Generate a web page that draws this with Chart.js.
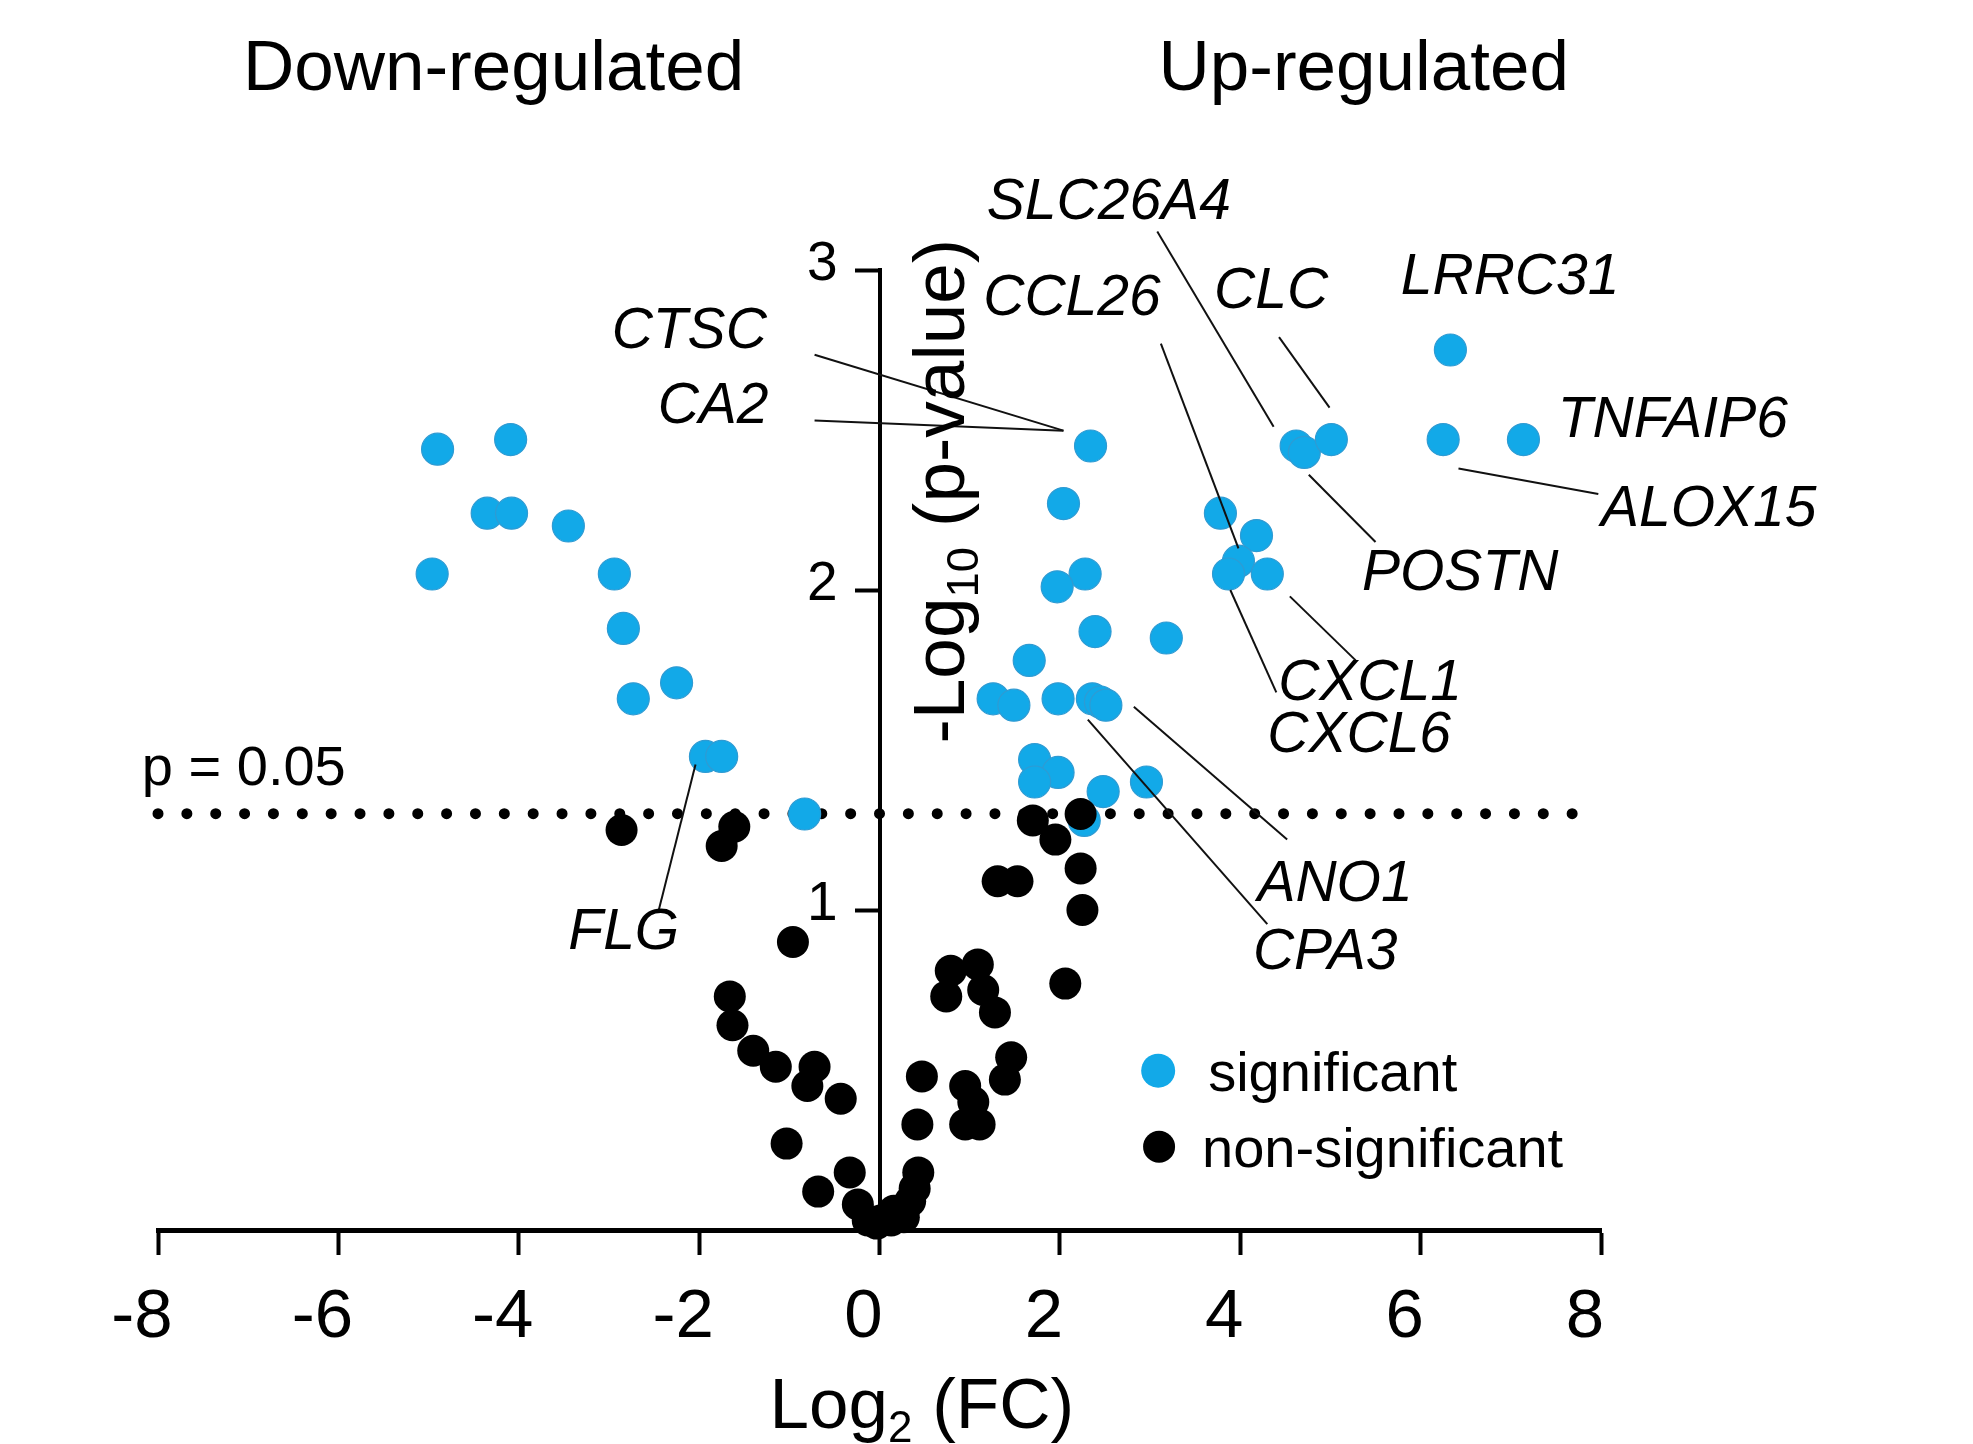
<!DOCTYPE html>
<html>
<head>
<meta charset="utf-8">
<title>Volcano plot</title>
<script src="https://cdn.jsdelivr.net/npm/chart.js@4.4.1/dist/chart.umd.min.js"></script>
<style>
  html, body { margin: 0; padding: 0; background: #fff; }
  #wrap { width: 1973px; height: 1444px; position: relative; }
</style>
</head>
<body>
<div id="wrap"><canvas id="volcano"></canvas></div>
<script>
/* ---------- Data ---------- */
const FONT = "'Liberation Sans', Arial, Helvetica, sans-serif";
const BLUE = "#12a9e8";

const X_TICKS = [-8, -6, -4, -2, 0, 2, 4, 6, 8];
const Y_TICKS = [1, 2, 3];
const P_THRESHOLD = 1.301; // -log10(0.05)

// significant genes (blue)
const sigLog2FC = [
  -4.90, -4.09, -4.35, -4.08, -3.45, -4.96, -2.94, -2.84, -2.73, -2.25, -1.93, -1.75, -0.83,
  2.34, 2.04, 2.28, 1.97, 2.39, 3.18, 1.66, 1.26, 1.49, 1.98, 2.36, 2.45, 2.51, 1.72, 1.98, 1.72, 2.48, 2.96, 2.27,
  3.78, 4.18, 3.98, 3.87, 4.30, 4.62, 4.71, 5.01, 6.25, 7.14, 6.33,
];
const sigNegLogP = [
  2.44, 2.47, 2.24, 2.24, 2.20, 2.05, 2.05, 1.88, 1.66, 1.71, 1.48, 1.48, 1.30,
  2.45, 2.27, 2.05, 2.01, 1.87, 1.85, 1.78, 1.66, 1.64, 1.66, 1.66, 1.65, 1.64, 1.47, 1.43, 1.40, 1.37, 1.40, 1.28,
  2.24, 2.17, 2.09, 2.05, 2.05, 2.45, 2.43, 2.47, 2.47, 2.47, 2.75,
];

// non-significant genes (black)
const nsLog2FC = [
  -2.86, -1.61, -1.75, -0.96, -1.66, -1.63, -1.40, -1.15, -0.72, -0.80, -0.43, -1.03, -0.33, -0.68, -0.24, -0.13, -0.03, 0.01,
  1.70, 1.95, 2.23, 2.23, 1.31, 1.53, 2.25, 0.79, 1.09, 0.74, 1.15, 1.28, 2.06, 1.46, 1.39, 0.95, 1.04, 0.95, 1.11,
  0.47, 0.42, 0.43, 0.39, 0.34, 0.25, 0.16, 0.27, 0.13,
];
const nsNegLogP = [
  1.25, 1.26, 1.20, 0.90, 0.73, 0.64, 0.56, 0.51, 0.51, 0.45, 0.41, 0.27, 0.18, 0.12, 0.08, 0.03, 0.02, 0.03,
  1.28, 1.22, 1.30, 1.13, 1.09, 1.09, 1.00, 0.81, 0.83, 0.73, 0.75, 0.68, 0.77, 0.54, 0.47, 0.45, 0.40, 0.33, 0.33,
  0.48, 0.33, 0.18, 0.13, 0.09, 0.06, 0.06, 0.04, 0.03,
];

// gene labels: text anchor (left, baseline) and leader line, in data units
const GENE_LABELS = [
  { gene: "SLC26A4", x: 1.19, y: 3.16, line: [3.08, 3.12, 4.37, 2.51] },
  { gene: "CCL26", x: 1.15, y: 2.86, line: [3.12, 2.77, 3.98, 2.13] },
  { gene: "CLC", x: 3.71, y: 2.88, line: [4.43, 2.79, 4.99, 2.57] },
  { gene: "LRRC31", x: 5.78, y: 2.925 },
  { gene: "CTSC", x: -2.97, y: 2.757, line: [-0.72, 2.735, 2.04, 2.498] },
  { gene: "CA2", x: -2.46, y: 2.523, line: [-0.72, 2.53, 2.04, 2.498] },
  { gene: "TNFAIP6", x: 7.52, y: 2.477 },
  { gene: "ALOX15", x: 8.0, y: 2.2, line: [6.42, 2.38, 7.97, 2.3] },
  { gene: "POSTN", x: 5.35, y: 2.0, line: [4.76, 2.36, 5.5, 2.15] },
  { gene: "CXCL1", x: 4.42, y: 1.657, line: [4.55, 1.98, 5.28, 1.78] },
  { gene: "CXCL6", x: 4.3, y: 1.495, line: [3.89, 2.0, 4.4, 1.68] },
  { gene: "ANO1", x: 4.19, y: 1.028, line: [2.82, 1.635, 4.52, 1.22] },
  { gene: "CPA3", x: 4.14, y: 0.816, line: [2.31, 1.595, 4.3, 0.956] },
  { gene: "FLG", x: -3.45, y: 0.878, line: [-2.04, 1.455, -2.45, 0.997] },
];

const pts = (xs, ys) => xs.map((x, i) => ({ x, y: ys[i] }));

/* ---------- Helpers ---------- */
function font(size, italic) {
  return `${italic ? "italic " : ""}${size}px ${FONT}`;
}

// text with subscript part(s): parts = [[text, isSub], ...]
function drawRich(ctx, parts, x, y, size) {
  let cx = x;
  parts.forEach(([t, sub]) => {
    const s = sub ? size * 0.62 : size;
    ctx.font = font(s);
    ctx.fillText(t, cx, sub ? y + size * 0.2 : y);
    cx += ctx.measureText(t).width;
  });
}

/* ---------- Overlay plugin: labels, legend, titles ---------- */
const overlay = {
  id: "overlay",
  afterDatasetsDraw(chart) {
    const { ctx, scales: { x: xs, y: ys }, chartArea } = chart;
    const px = (v) => xs.getPixelForValue(v);
    const py = (v) => ys.getPixelForValue(v);
    const x0 = px(0);

    ctx.save();
    ctx.fillStyle = "#000";
    ctx.textBaseline = "alphabetic";

    // y tick labels (left of the centred axis)
    ctx.font = font(55);
    ctx.textAlign = "right";
    Y_TICKS.forEach((v) => ctx.fillText(String(v), x0 - 42, py(v) + 10));

    // leader lines
    ctx.strokeStyle = "#111";
    ctx.lineWidth = 2;
    GENE_LABELS.forEach((g) => {
      if (!g.line) return;
      const [a, b, c, d] = g.line;
      ctx.beginPath();
      ctx.moveTo(px(a), py(b));
      ctx.lineTo(px(c), py(d));
      ctx.stroke();
    });

    // gene names
    ctx.textAlign = "left";
    ctx.font = font(57, true);
    GENE_LABELS.forEach((g) => ctx.fillText(g.gene, px(g.x), py(g.y)));

    // threshold label
    ctx.font = font(56);
    ctx.fillText("p = 0.05", px(-8.18), py(P_THRESHOLD + 0.09));

    // legend
    const legend = [
      { label: "significant", color: BLUE, r: 17, x: 3.09, y: 0.498, tx: 50 },
      { label: "non-significant", color: "#000", r: 16, x: 3.1, y: 0.26, tx: 43 },
    ];
    ctx.font = font(56);
    legend.forEach((l) => {
      ctx.beginPath();
      ctx.fillStyle = l.color;
      ctx.arc(px(l.x), py(l.y), l.r, 0, Math.PI * 2);
      ctx.fill();
      ctx.fillStyle = "#000";
      ctx.fillText(l.label, px(l.x) + l.tx, py(l.y) + 20);
    });

    // top titles
    ctx.font = font(71);
    ctx.textAlign = "center";
    ctx.fillText("Down-regulated", px(-4.28), 90);
    ctx.fillText("Up-regulated", px(5.37), 90);

    // x axis title
    ctx.textAlign = "left";
    drawRich(ctx, [["Log", false], ["2", true], [" (FC)", false]], x0 - 110, chartArea.bottom + 198, 71);

    // y axis title, rotated, sits right of the axis
    ctx.translate(x0 + 84, py(1.52));
    ctx.rotate(-Math.PI / 2);
    drawRich(ctx, [["-Log", false], ["10", true], [" (p-value)", false]], 0, 0, 73);
    ctx.restore();
  },
};

/* ---------- Chart ---------- */
function init() {
  new Chart(document.getElementById("volcano"), {
    type: "scatter",
    data: {
      datasets: [
        {
          label: "non-significant",
          data: pts(nsLog2FC, nsNegLogP),
          backgroundColor: "#000",
          borderColor: "#000",
          borderWidth: 0,
          pointRadius: 16,
          clip: false,
          order: 1,
        },
        {
          label: "significant",
          data: pts(sigLog2FC, sigNegLogP),
          backgroundColor: BLUE,
          borderColor: "#2f9bd3",
          borderWidth: 1.2,
          pointRadius: 16,
          clip: false,
          order: 2,
        },
        {
          type: "line",
          label: "p = 0.05",
          data: [{ x: -8, y: P_THRESHOLD }, { x: 8, y: P_THRESHOLD }],
          borderColor: "#000",
          borderWidth: 11,
          borderCapStyle: "round",
          borderDash: [0.01, 28.85],
          pointRadius: 0,
          clip: false,
          order: 3,
        },
      ],
    },
    options: {
      responsive: true,
      maintainAspectRatio: false,
      animation: false,
      events: [],
      layout: { padding: { left: 158, right: 372, top: 270, bottom: 0 } },
      plugins: { legend: { display: false }, tooltip: { enabled: false } },
      scales: {
        x: {
          type: "linear",
          position: "bottom",
          min: -8,
          max: 8,
          afterBuildTicks: (s) => { s.ticks = X_TICKS.map((v) => ({ value: v })); },
          afterFit: (s) => { s.height = 214; },
          ticks: {
            color: "#000",
            font: { family: FONT, size: 69 },
            padding: 22,
            labelOffset: -16,
            maxRotation: 0,
          },
          grid: { drawOnChartArea: false, drawTicks: true, tickLength: 25, tickWidth: 4, color: "#000" },
          border: { display: true, color: "#000", width: 5 },
        },
        y: {
          type: "linear",
          position: { x: 0 },
          min: 0,
          max: 3,
          afterBuildTicks: (s) => { s.ticks = Y_TICKS.map((v) => ({ value: v })); },
          ticks: { display: false },
          grid: { drawOnChartArea: false, drawTicks: true, tickLength: 23, tickWidth: 4, color: "#000" },
          border: { display: true, color: "#000", width: 4 },
        },
      },
    },
    plugins: [overlay],
  });
}

document.addEventListener("DOMContentLoaded", init);
</script>
</body>
</html>
